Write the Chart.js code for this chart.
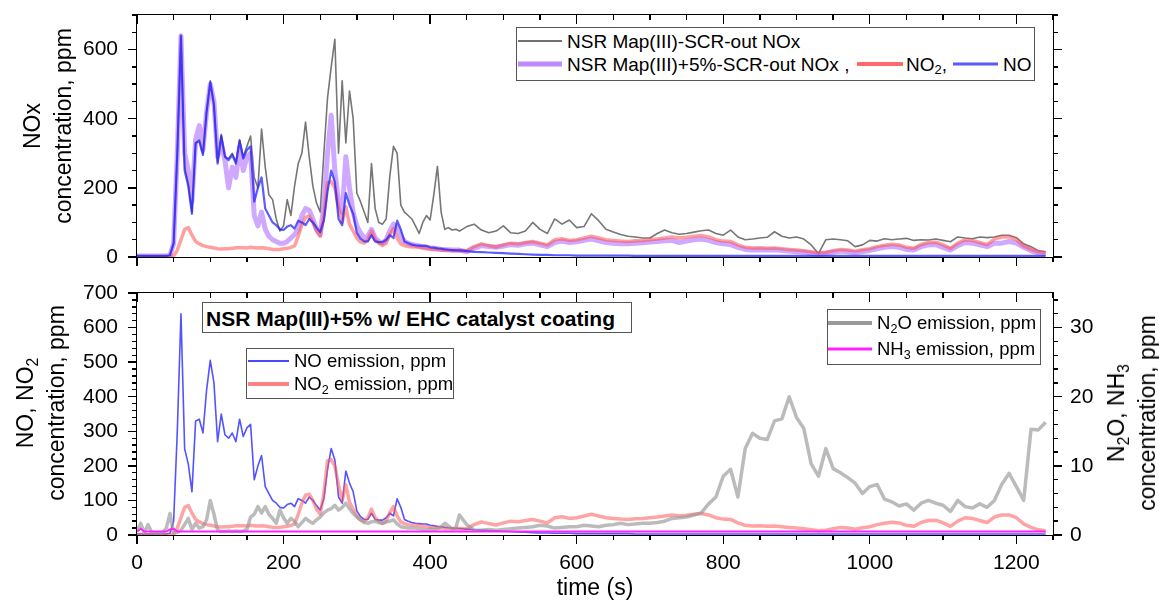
<!DOCTYPE html>
<html>
<head>
<meta charset="utf-8">
<script src="https://cdn.jsdelivr.net/npm/chart.js@4"></script>
<style>
  body { margin: 0; background: #fff; font-family: "Liberation Sans", Arial, sans-serif; }
  #page { position: relative; width: 1159px; height: 600px; overflow: hidden; background: #fff; }
  canvas { position: absolute; left: 0; }
  .box { position: absolute; border: 1px solid #555; background: #fff; box-sizing: border-box; z-index: 3; }
  .sw { position: absolute; height: 0; transform: translateY(-50%); }
  .lab { position: absolute; white-space: nowrap; line-height: 1; transform: translateY(-50%); color: #000; }
  sub { font-size: 0.68em; vertical-align: -0.3em; line-height: 0; }
  .ytitle { position: absolute; white-space: nowrap; text-align: center; font-size: 23px; line-height: 31px;
            transform: translate(-50%, -50%) rotate(-90deg); color: #000; }
  .frame { position: absolute; border: 1.6px solid #000; box-sizing: border-box; z-index: 2; }
  .mk { position: absolute; background: #000; z-index: 2; }
</style>
</head>
<body>
<div id="page">
  <canvas id="chartTop" width="1159" height="270" style="top:0"></canvas>
  <canvas id="chartBottom" width="1159" height="330" style="top:270px"></canvas>

  <!-- y axis titles -->
  <div class="ytitle" style="left:48px;top:126px">NOx<br>concentration, ppm</div>
  <div class="ytitle" style="left:41px;top:403px">NO, NO<sub>2</sub><br>concentration, ppm</div>
  <div class="ytitle" style="left:1132px;top:413px">N<sub>2</sub>O, NH<sub>3</sub><br>concentration, ppm</div>

  <!-- legend top panel -->
  <div class="box" style="left:516px;top:27px;width:519px;height:54px;font-size:19px">
    <div class="sw" style="left:1px;top:13px;width:44px;border-top:2px solid #707070"></div>
    <div class="lab" style="left:50px;top:13px">NSR Map(III)-SCR-out NOx</div>
    <div class="sw" style="left:1px;top:36px;width:44px;border-top:5px solid rgba(175,110,255,0.8)"></div>
    <div class="lab" style="left:50px;top:36px">NSR Map(III)+5%-SCR-out NOx ,</div>
    <div class="sw" style="left:340px;top:36px;width:46px;border-top:4px solid rgba(255,80,80,0.85)"></div>
    <div class="lab" style="left:389px;top:36px">NO<sub>2</sub>,</div>
    <div class="sw" style="left:436px;top:36px;width:45px;border-top:3px solid rgba(60,60,255,0.85)"></div>
    <div class="lab" style="left:486px;top:36px">NO</div>
  </div>

  <!-- bottom panel annotation and legends -->
  <div class="box" style="left:202px;top:302px;width:430px;height:31px">
    <div class="lab" style="left:3px;top:15px;font-size:21px;font-weight:bold">NSR Map(III)+5% w/ EHC catalyst coating</div>
  </div>
  <div class="box" style="left:246px;top:348px;width:208px;height:51px;font-size:18.5px">
    <div class="sw" style="left:1px;top:12px;width:41px;border-top:2px solid rgba(40,40,255,0.85)"></div>
    <div class="lab" style="left:47px;top:12px">NO emission, ppm</div>
    <div class="sw" style="left:1px;top:35px;width:41px;border-top:4px solid rgba(255,90,90,0.75)"></div>
    <div class="lab" style="left:47px;top:35px">NO<sub>2</sub> emission, ppm</div>
  </div>
  <div class="box" style="left:827px;top:309px;width:214px;height:56px;font-size:18.5px">
    <div class="sw" style="left:0;top:13px;width:44px;border-top:4px solid #999"></div>
    <div class="lab" style="left:49px;top:13px">N<sub>2</sub>O emission, ppm</div>
    <div class="sw" style="left:0;top:39px;width:44px;border-top:3px solid #ff22ff"></div>
    <div class="lab" style="left:49px;top:39px">NH<sub>3</sub> emission, ppm</div>
  </div>
</div>

<script>
// time grid (s): 5 s steps up to 440, then 10 s
const time = [
  0,5,10,15,20,25,30,35,40,45,
  50,55,60,65,70,75,80,85,90,95,
  100,105,110,115,120,125,130,135,140,145,
  150,155,160,165,170,175,180,185,190,195,
  200,205,210,215,220,225,230,235,240,245,
  250,255,260,265,270,275,280,285,290,295,
  300,305,310,315,320,325,330,335,340,345,
  350,355,360,365,370,375,380,385,390,395,
  400,405,410,415,420,425,430,435,440,
  450,460,470,480,490,500,510,520,530,540,
  550,560,570,580,590,600,610,620,630,640,
  650,660,670,680,690,700,710,720,730,740,
  750,760,770,780,790,800,810,820,830,840,
  850,860,870,880,890,900,910,920,930,940,
  950,960,970,980,990,1000,1010,1020,1030,1040,
  1050,1060,1070,1080,1090,1100,1110,1120,1130,1140,
  1150,1160,1170,1180,1190,1200,1210,1220,1230,1240
];

// NSR Map(III)-SCR-out NOx, ppm
const noxMap3 = [
  3,3,3,3,3,3,3,3,3,5,
  40,300,640,260,215,130,330,340,300,420,
  510,440,275,355,290,285,300,275,340,290,
  320,350,230,200,370,260,180,166,110,75,
  90,166,120,205,270,300,390,290,205,156,
  130,300,460,550,630,300,510,330,480,400,
  185,160,130,100,270,140,100,95,110,234,
  320,300,150,130,120,110,90,68,100,120,
  107,180,262,130,80,85,78,80,75,
  88,95,78,70,75,90,70,68,75,100,
  80,68,110,95,107,85,88,125,105,80,
  72,65,60,58,55,55,68,78,70,66,
  68,72,76,78,68,63,78,58,50,52,
  55,57,73,60,55,58,52,35,10,50,
  52,50,47,30,35,48,46,53,50,52,
  54,48,50,49,52,48,44,58,55,53,
  58,56,58,63,63,56,38,30,18,15
];

// NSR Map(III)+5%-SCR-out NOx, ppm
const noxMap3p5 = [
  3,3,3,3,3,3,3,3,3,5,
  40,300,640,300,250,160,340,380,310,420,
  500,450,290,330,280,200,260,230,320,250,
  290,300,120,90,130,80,60,50,45,40,
  40,45,55,65,80,120,140,135,110,80,
  65,150,300,410,250,160,130,290,200,130,
  90,70,55,60,80,55,45,40,50,75,
  95,85,60,45,40,36,34,32,30,28,
  26,25,24,22,22,21,20,20,20,
  15,25,33,30,28,32,36,34,38,40,
  35,30,42,46,42,44,48,52,47,42,
  40,38,38,40,41,43,45,47,48,42,
  46,50,52,48,42,38,36,28,22,20,
  21,20,21,19,17,15,14,10,8,10,
  14,17,15,12,16,19,24,28,30,28,
  22,20,30,35,36,28,20,33,42,40,
  35,30,40,40,45,40,28,18,12,10
];

// NO2, ppm
const no2 = [
  0,0,0,0,0,0,0,0,0,1,
  3,20,50,80,85,63,45,38,33,30,
  28,26,24,23,24,24,25,27,27,27,
  26,28,27,26,27,26,24,22,22,22,
  24,25,28,32,60,92,115,118,100,75,
  60,120,215,218,200,145,100,145,95,75,
  55,43,40,50,75,50,40,33,40,65,
  82,55,38,33,30,29,29,28,25,24,
  22,22,21,20,19,19,18,18,19,
  18,30,38,33,29,35,40,38,42,45,
  40,35,50,53,48,50,55,60,55,50,
  48,46,45,47,48,50,52,55,58,55,
  57,60,62,58,50,46,45,35,28,26,
  27,25,26,24,22,20,18,15,12,14,
  18,22,20,17,21,24,30,34,37,35,
  28,25,36,42,43,35,25,40,50,48,
  42,36,52,58,58,50,32,22,15,12
];

// NO, ppm
const no = [
  3,3,3,3,3,3,3,3,3,5,
  40,300,640,250,205,125,330,335,295,420,
  505,440,270,350,290,280,295,270,335,285,
  310,320,160,200,230,140,120,100,92,80,
  78,88,92,82,105,100,92,110,100,85,
  72,105,190,250,217,110,92,185,150,125,
  70,53,45,45,63,45,43,43,50,63,
  55,105,80,45,40,36,34,33,32,32,
  28,27,25,24,22,21,20,19,19,
  17,15,14,13,12,11,10,9,8,7,
  6,6,5,5,5,4,4,4,4,4,
  4,4,4,3,3,3,3,3,3,3,
  3,3,3,3,3,3,3,3,3,3,
  3,3,3,3,3,3,3,3,3,3,
  3,3,3,3,3,3,3,3,3,3,
  3,3,3,3,3,3,3,3,3,3,
  3,3,3,3,3,3,3,3,3,3
];

// N2O, ppm (right axis)
const n2o = [
  0.5,1.7,0.3,1.5,0.4,0.3,0.2,0.3,1.0,3.1,
  0.3,0.4,0.7,1.5,2.4,0.8,1.7,1.0,1.2,2.2,
  5.0,3.0,0.7,0.5,0.5,0.6,0.5,0.6,0.5,0.6,
  0.8,2.6,3.0,4.1,3.2,4.1,3.0,2.4,1.7,3.6,
  2.5,1.7,2.4,2.0,1.2,1.8,2.4,2.0,1.7,2.2,
  2.6,3.2,3.6,3.8,4.3,3.6,4.0,4.6,3.8,3.1,
  2.6,2.2,1.8,1.7,1.9,2.0,1.8,1.7,1.9,2.0,
  2.2,1.6,1.2,1.1,1.0,1.0,1.0,0.9,0.8,0.7,
  0.9,0.8,0.9,1.2,1.7,1.3,0.9,1.0,2.9,
  1.5,0.7,0.7,0.8,0.7,0.8,0.9,1.0,1.1,1.2,
  1.4,1.3,1.0,1.1,1.2,1.2,1.4,1.3,1.2,1.4,
  1.5,1.7,1.5,1.6,1.7,1.7,1.8,2.0,2.4,2.5,
  2.6,2.9,3.2,4.5,5.5,8.5,9.5,5.5,12.5,14.7,
  14.0,13.8,16.5,16.8,20.0,17.0,15.4,10.3,8.5,12.5,
  9.6,9.0,8.3,7.5,6.0,7.0,7.3,5.2,4.8,4.2,
  4.5,3.6,4.6,5.0,4.6,4.3,3.4,5.0,4.1,3.9,
  4.5,4.0,5.0,7.3,8.9,7.0,5.0,15.3,15.2,16.3
];

// NH3, ppm (right axis)
const nh3 = [
  0.5,0.9,0.5,0.5,0.5,0.5,0.5,0.5,0.5,0.8,
  0.9,0.5,0.5,0.5,0.5,0.5,0.5,0.5,0.5,0.5,
  0.5,0.5,0.5,0.5,0.5,0.5,0.5,0.5,0.5,0.5,
  0.5,0.5,0.5,0.5,0.5,0.5,0.5,0.5,0.5,0.5,
  0.5,0.5,0.5,0.5,0.5,0.5,0.5,0.5,0.5,0.5,
  0.5,0.5,0.5,0.5,0.5,0.5,0.5,0.5,0.5,0.5,
  0.5,0.5,0.5,0.5,0.5,0.5,0.5,0.5,0.5,0.5,
  0.5,0.5,0.5,0.5,0.5,0.5,0.5,0.5,0.5,0.5,
  0.5,0.5,0.5,0.5,0.5,0.5,0.5,0.5,0.5,
  0.5,0.5,0.5,0.5,0.5,0.5,0.5,0.5,0.5,0.5,
  0.5,0.5,0.5,0.5,0.5,0.5,0.5,0.5,0.5,0.5,
  0.5,0.5,0.5,0.5,0.5,0.5,0.5,0.5,0.5,0.5,
  0.5,0.5,0.5,0.5,0.5,0.5,0.5,0.5,0.5,0.5,
  0.5,0.5,0.5,0.5,0.5,0.5,0.5,0.5,0.5,0.5,
  0.5,0.5,0.5,0.5,0.5,0.5,0.5,0.5,0.5,0.5,
  0.5,0.5,0.5,0.5,0.5,0.5,0.5,0.5,0.5,0.5,
  0.5,0.5,0.5,0.5,0.5,0.5,0.5,0.5,0.5,0.5
];

const FONT = '"Liberation Sans", Arial, sans-serif';
const tickFont = { family: FONT, size: 21 };
const pts = arr => arr.map((v, i) => ({ x: time[i], y: v }));
const plain = v => String(v);
// keep the plot box where the reference has it
const fixY = w => s => { s.width = w; s.paddingTop = 0; s.paddingBottom = 0; };
const fixX = h => s => { s.height = h; s.paddingLeft = 0; s.paddingRight = 0; };
const noGrid = { display: false, drawTicks: false };

// plot frame and Origin style tick marks, placed from the chart's own scales
function addFrame(chart, offsetTop, spec) {
    const page = document.getElementById('page');
    const a = chart.chartArea;
    const top = offsetTop + a.top, bottom = offsetTop + a.bottom;
    const put = (cls, l, t, w, h) => {
        const d = document.createElement('div');
        d.className = cls;
        d.style.left = l + 'px'; d.style.top = t + 'px';
        d.style.width = w + 'px'; d.style.height = h + 'px';
        page.appendChild(d);
    };
    const T = 1.4;
    const xs = chart.scales.x;
    for (let v = 0; v <= 1250; v += spec.xMinor) {
        const p = xs.getPixelForValue(v) - T / 2;
        const len = v % spec.xMajor === 0 ? 9 : 5;
        put('mk', p, bottom, T, len);          // bottom, outward
        put('mk', p, top, T, len);             // top, inward
    }
    const ys = chart.scales.y;
    for (let v = 0; v <= spec.yMax; v += spec.yMinor) {
        const p = offsetTop + ys.getPixelForValue(v) - T / 2;
        const len = v % spec.yMajor === 0 ? 9 : 5;
        put('mk', a.left - len, p, len, T);
        if (!spec.y2Minor) put('mk', a.right, p, len, T);
    }
    if (spec.y2Minor) {
        const y2 = chart.scales.y2;
        for (let v = 0; v <= spec.y2Max; v += spec.y2Minor) {
            const p = offsetTop + y2.getPixelForValue(v) - T / 2;
            const len = v % spec.y2Major === 0 ? 9 : 5;
            put('mk', a.right, p, len, T);
        }
    }
    put('frame', a.left - 0.8, top - 0.8, a.right - a.left + 1.6, a.bottom - a.top + 1.6);
}

// --- top panel: NOx ---
const chartTop = new Chart(document.getElementById('chartTop'), {
    type: 'line',
    data: {
        datasets: [
            { label: 'NSR Map(III)-SCR-out NOx', data: pts(noxMap3), borderColor: 'rgb(118,118,118)', borderWidth: 1.6, order: 4 },
            { label: 'NSR Map(III)+5%-SCR-out NOx', data: pts(noxMap3p5), borderColor: 'rgba(175,110,255,0.6)', borderWidth: 5, order: 3 },
            { label: 'NO2', data: pts(no2), borderColor: 'rgba(255,80,80,0.55)', borderWidth: 3.5, order: 2 },
            { label: 'NO', data: pts(no), borderColor: 'rgba(30,30,255,0.72)', borderWidth: 2.2, order: 1 }
        ]
    },
    options: {
        responsive: false,
        animation: false,
        events: [],
        elements: { point: { radius: 0 }, line: { tension: 0, borderJoinStyle: 'round' } },
        layout: { padding: { top: 15, right: 106, left: 0, bottom: 0 } },
        plugins: { legend: { display: false }, tooltip: { enabled: false } },
        scales: {
            x: {
                type: 'linear', min: 0, max: 1250,
                grid: noGrid, border: { display: false },
                ticks: { display: false, stepSize: 200, includeBounds: false },
                afterFit: fixX(13)
            },
            y: {
                min: 0, max: 700,
                grid: noGrid, border: { display: false },
                ticks: { stepSize: 200, includeBounds: false, color: '#000', font: tickFont, padding: 19, callback: plain },
                afterFit: fixY(137)
            }
        }
    }
});

// --- bottom panel: NO, NO2, N2O, NH3 ---
const chartBottom = new Chart(document.getElementById('chartBottom'), {
    type: 'line',
    data: {
        datasets: [
            { label: 'NO emission, ppm', data: pts(no), borderColor: 'rgba(40,40,255,0.8)', borderWidth: 1.6, yAxisID: 'y', order: 4 },
            { label: 'NO2 emission, ppm', data: pts(no2), borderColor: 'rgba(255,90,90,0.55)', borderWidth: 3.5, yAxisID: 'y', order: 3 },
            { label: 'N2O emission, ppm', data: pts(n2o), borderColor: 'rgba(150,150,150,0.65)', borderWidth: 3.5, yAxisID: 'y2', order: 2 },
            { label: 'NH3 emission, ppm', data: pts(nh3), borderColor: '#ff22ff', borderWidth: 2, yAxisID: 'y2', order: 1 }
        ]
    },
    options: {
        responsive: false,
        animation: false,
        events: [],
        elements: { point: { radius: 0 }, line: { tension: 0, borderJoinStyle: 'round' } },
        layout: { padding: { top: 23, right: 0, left: 0, bottom: 0 } },
        plugins: { legend: { display: false }, tooltip: { enabled: false } },
        scales: {
            x: {
                type: 'linear', min: 0, max: 1250,
                grid: noGrid, border: { display: false },
                ticks: { stepSize: 200, includeBounds: false, color: '#000', font: tickFont, padding: 16, maxRotation: 0, callback: plain },
                title: { display: true, text: 'time (s)', color: '#000', font: { family: FONT, size: 23, lineHeight: 1 }, padding: 0 },
                afterFit: fixX(65)
            },
            y: {
                position: 'left', min: 0, max: 700,
                grid: noGrid, border: { display: false },
                ticks: { stepSize: 100, includeBounds: false, color: '#000', font: tickFont, padding: 19, callback: plain },
                afterFit: fixY(137)
            },
            y2: {
                position: 'right', min: 0, max: 35,
                grid: noGrid, border: { display: false },
                ticks: { stepSize: 10, includeBounds: false, color: '#000', font: tickFont, padding: 17, callback: plain },
                afterFit: fixY(106)
            }
        }
    }
});

addFrame(chartTop, 0, { xMinor: 50, xMajor: 200, yMax: 700, yMinor: 50, yMajor: 200 });
addFrame(chartBottom, 270, { xMinor: 50, xMajor: 200, yMax: 700, yMinor: 20, yMajor: 100, y2Max: 35, y2Minor: 2, y2Major: 10 });
</script>
</body>
</html>
